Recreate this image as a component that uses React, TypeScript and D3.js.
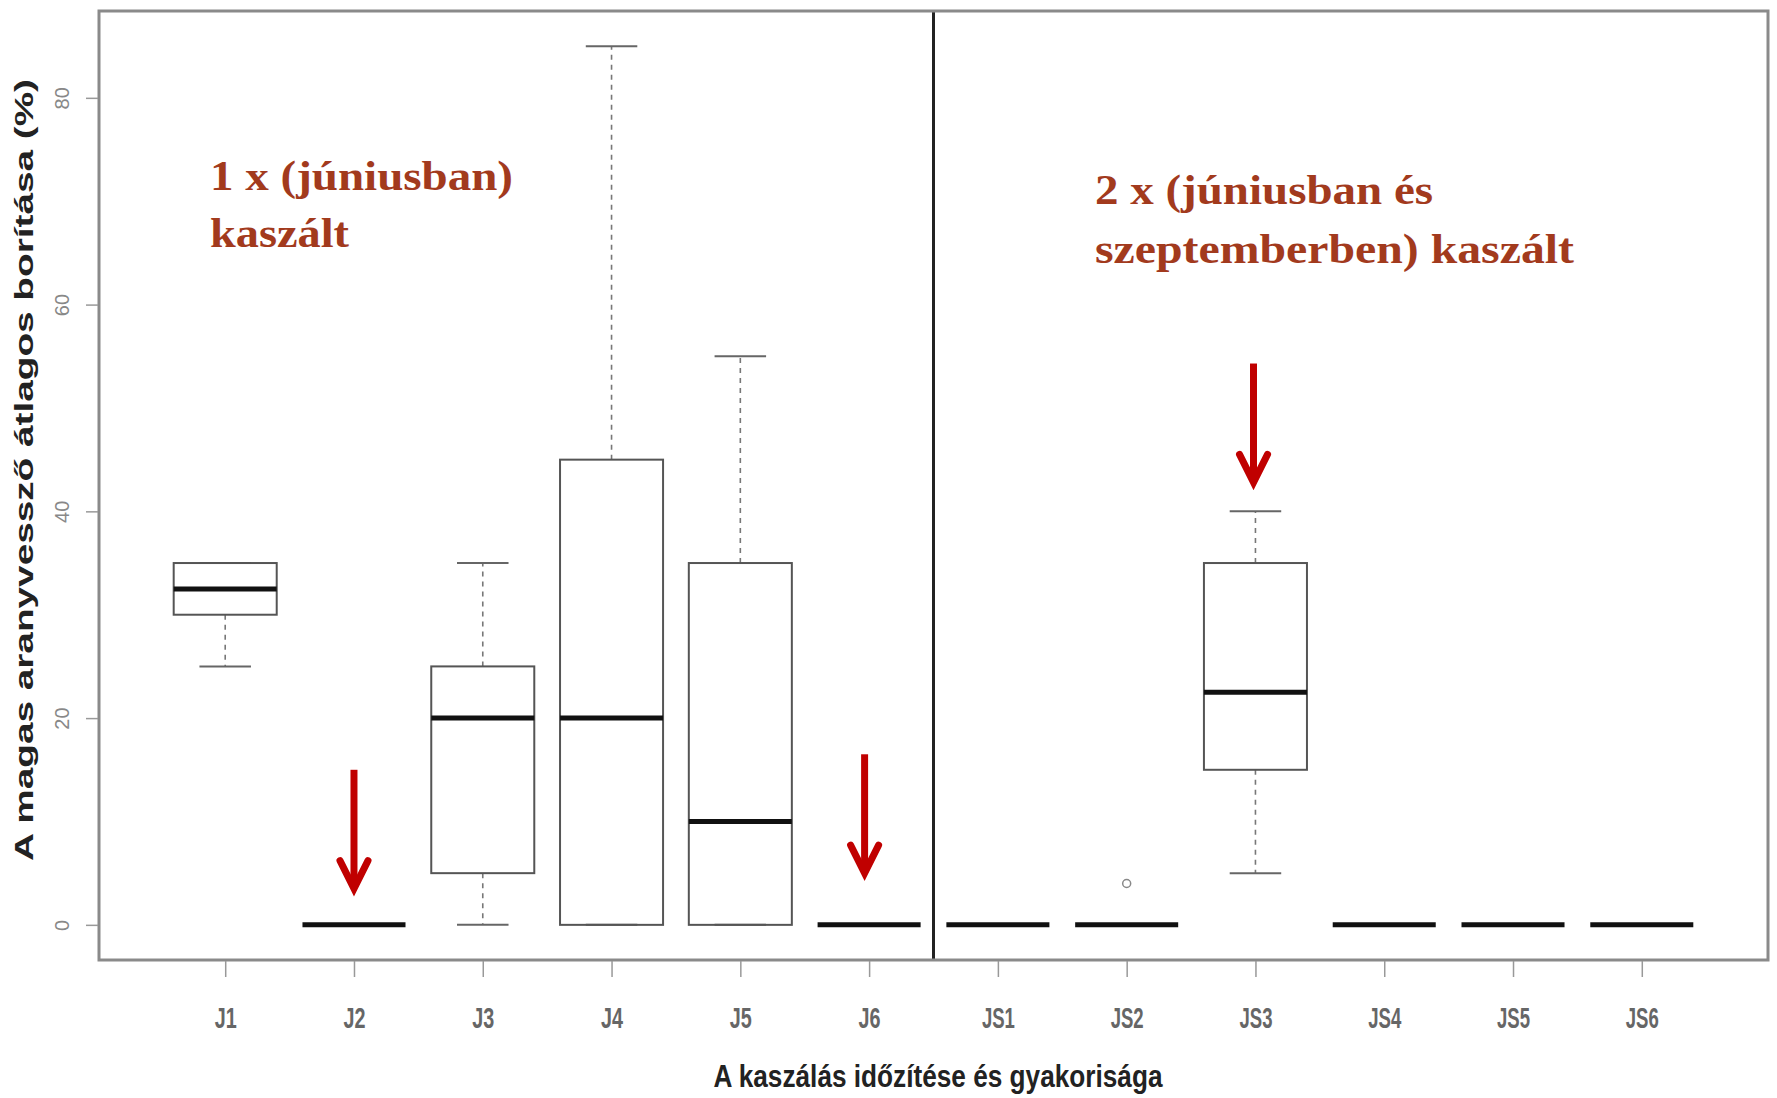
import React, { useEffect, useRef } from "react";
import * as d3 from "d3";

const categories = ["J1", "J2", "J3", "J4", "J5", "J6", "JS1", "JS2", "JS3", "JS4", "JS5", "JS6"];
const whiskerLow = [25, 0, 0, 0, 0, 0, 0, 0, 5, 0, 0, 0];
const q1 = [30, 0, 5, 0, 0, 0, 0, 0, 15, 0, 0, 0];
const median = [32.5, 0, 20, 20, 10, 0, 0, 0, 22.5, 0, 0, 0];
const q3 = [35, 0, 25, 45, 35, 0, 0, 0, 35, 0, 0, 0];
const whiskerHigh = [35, 0, 35, 85, 55, 0, 0, 0, 40, 0, 0, 0];
const outlierCats = ["JS2"];
const outlierValues = [4];
const yTicks = [0, 20, 40, 60, 80];
const separatorAt = 6.5;
const arrowCats = ["J2", "J6", "JS3"];
const arrowFrom = [15, 16.5, 54.3];
const arrowTo = [3.5, 5, 42.8];
const arrowShift = [0, -0.035, -0.015];

const W = 1777;
const H = 1098;
const L = 99, R = 1768, T = 11, B = 960;

export default function App() {
  const ref = useRef<SVGSVGElement>(null);

  useEffect(() => {
    const svg = d3.select(ref.current);
    svg.selectAll("*").remove();

    const x = d3.scaleLinear().domain([0.02, 12.98]).range([L, R]);
    const y = d3.scaleLinear().domain([-3.4, 88.4]).range([B, T]);
    const pos = (c: string) => categories.indexOf(c) + 1;
    const bw = (x(1.4) - x(0.6));

    // separator
    svg.append("line")
      .attr("x1", x(separatorAt)).attr("x2", x(separatorAt))
      .attr("y1", T).attr("y2", B)
      .attr("stroke", "#222").attr("stroke-width", 3);

    const g = svg.append("g");
    categories.forEach((c, i) => {
      const cx = x(i + 1);
      const gg = g.append("g");
      if (whiskerHigh[i] > q3[i]) {
        gg.append("line").attr("x1", cx).attr("x2", cx)
          .attr("y1", y(q3[i])).attr("y2", y(whiskerHigh[i]))
          .attr("stroke", "#777").attr("stroke-width", 1.6).attr("stroke-dasharray", "5,5");
      }
      if (whiskerLow[i] < q1[i]) {
        gg.append("line").attr("x1", cx).attr("x2", cx)
          .attr("y1", y(q1[i])).attr("y2", y(whiskerLow[i]))
          .attr("stroke", "#777").attr("stroke-width", 1.6).attr("stroke-dasharray", "5,5");
      }
      if (q3[i] > q1[i]) {
        [whiskerLow[i], whiskerHigh[i]].forEach((v) => {
          gg.append("line").attr("x1", cx - bw / 4).attr("x2", cx + bw / 4)
            .attr("y1", y(v)).attr("y2", y(v))
            .attr("stroke", "#666").attr("stroke-width", 2);
        });
        gg.append("rect")
          .attr("x", cx - bw / 2).attr("width", bw)
          .attr("y", y(q3[i])).attr("height", y(q1[i]) - y(q3[i]))
          .attr("fill", "none").attr("stroke", "#555").attr("stroke-width", 2);
      }
      gg.append("line").attr("x1", cx - bw / 2).attr("x2", cx + bw / 2)
        .attr("y1", y(median[i])).attr("y2", y(median[i]))
        .attr("stroke", "#111").attr("stroke-width", 5);
    });

    outlierCats.forEach((c, i) => {
      svg.append("circle").attr("cx", x(pos(c))).attr("cy", y(outlierValues[i]))
        .attr("r", 4).attr("fill", "none").attr("stroke", "#888").attr("stroke-width", 1.5);
    });

    // frame
    svg.append("rect").attr("x", L).attr("y", T).attr("width", R - L).attr("height", B - T)
      .attr("fill", "none").attr("stroke", "#8a8a8a").attr("stroke-width", 3);

    // axes
    const xAxis = d3.axisBottom(x)
      .tickValues(categories.map((_, i) => i + 1))
      .tickFormat((d: any) => categories[(d as number) - 1])
      .tickSize(16).tickPadding(30);
    const xg = svg.append("g").attr("transform", `translate(0,${B + 1})`).call(xAxis);
    xg.select(".domain").remove();
    xg.selectAll(".tick line").attr("stroke", "#999").attr("stroke-width", 1.5);
    xg.selectAll(".tick text")
      .attr("fill", "#666").attr("font-size", 29).attr("font-weight", "bold")
      .attr("font-family", "'Liberation Sans', Arial, sans-serif")
      .each(function () {
        const t = d3.select(this);
        const s = t.text();
        t.attr("textLength", s.length * 11).attr("lengthAdjust", "spacingAndGlyphs");
      });

    const yAxis = d3.axisLeft(y).tickValues(yTicks).tickSize(12).tickPadding(8);
    const yg = svg.append("g").attr("transform", `translate(${L - 1},0)`).call(yAxis);
    yg.select(".domain").remove();
    yg.selectAll(".tick line").attr("stroke", "#999").attr("stroke-width", 1.5);
    yg.selectAll(".tick text")
      .attr("fill", "#888").attr("font-size", 20)
      .attr("font-family", "'Liberation Sans', Arial, sans-serif")
      .attr("x", null).attr("dy", null)
      .attr("text-anchor", "middle")
      .attr("transform", "translate(-29,0) rotate(-90)");

    // axis titles
    svg.append("text")
      .attr("x", 938).attr("y", 1087)
      .attr("text-anchor", "middle")
      .attr("font-family", "'Liberation Sans', Arial, sans-serif")
      .attr("font-weight", "bold").attr("font-size", 31).attr("fill", "#222")
      .attr("textLength", 449).attr("lengthAdjust", "spacingAndGlyphs")
      .text("A kaszálás időzítése és gyakorisága");

    svg.append("text")
      .attr("transform", "translate(33,470) rotate(-90)")
      .attr("text-anchor", "middle")
      .attr("font-family", "'Liberation Sans', Arial, sans-serif")
      .attr("font-weight", "bold").attr("font-size", 26).attr("fill", "#222")
      .attr("textLength", 782).attr("lengthAdjust", "spacingAndGlyphs")
      .text("A magas aranyvessző átlagos borítása (%)");

    // annotations
    const ann = "#a23a1d";
    const t1 = [["1 x (júniusban)", 210, 190, 303], ["kaszált", 210, 247, 139]] as const;
    t1.forEach(([s, tx, ty, tl]) => {
      svg.append("text").attr("x", tx).attr("y", ty)
        .attr("font-family", "'Liberation Serif', 'Times New Roman', serif")
        .attr("font-weight", "bold").attr("font-size", 42).attr("fill", ann)
        .attr("textLength", tl).attr("lengthAdjust", "spacingAndGlyphs")
        .text(s);
    });
    const t2 = [["2 x (júniusban és", 1095, 204, 338], ["szeptemberben) kaszált", 1095, 263, 479]] as const;
    t2.forEach(([s, tx, ty, tl]) => {
      svg.append("text").attr("x", tx).attr("y", ty)
        .attr("font-family", "'Liberation Serif', 'Times New Roman', serif")
        .attr("font-weight", "bold").attr("font-size", 42).attr("fill", ann)
        .attr("textLength", tl).attr("lengthAdjust", "spacingAndGlyphs")
        .text(s);
    });

    // arrows
    const red = "#c00000";
    arrowCats.forEach((c, i) => {
      const ax = x(pos(c) + arrowShift[i]);
      const y0 = y(arrowFrom[i]);
      const y1 = y(arrowTo[i]);
      svg.append("line").attr("x1", ax).attr("x2", ax).attr("y1", y0).attr("y2", y1 - 4)
        .attr("stroke", red).attr("stroke-width", 7);
      svg.append("path")
        .attr("d", `M${ax - 14},${y1 - 28} L${ax},${y1} L${ax + 14},${y1 - 28}`)
        .attr("fill", "none").attr("stroke", red).attr("stroke-width", 7)
        .attr("stroke-linecap", "round").attr("stroke-linejoin", "miter");
    });
  }, []);

  return (
    <svg
      ref={ref}
      width={W}
      height={H}
      style={{ position: "absolute", left: 0, top: 0, background: "#fff" }}
    />
  );
}
